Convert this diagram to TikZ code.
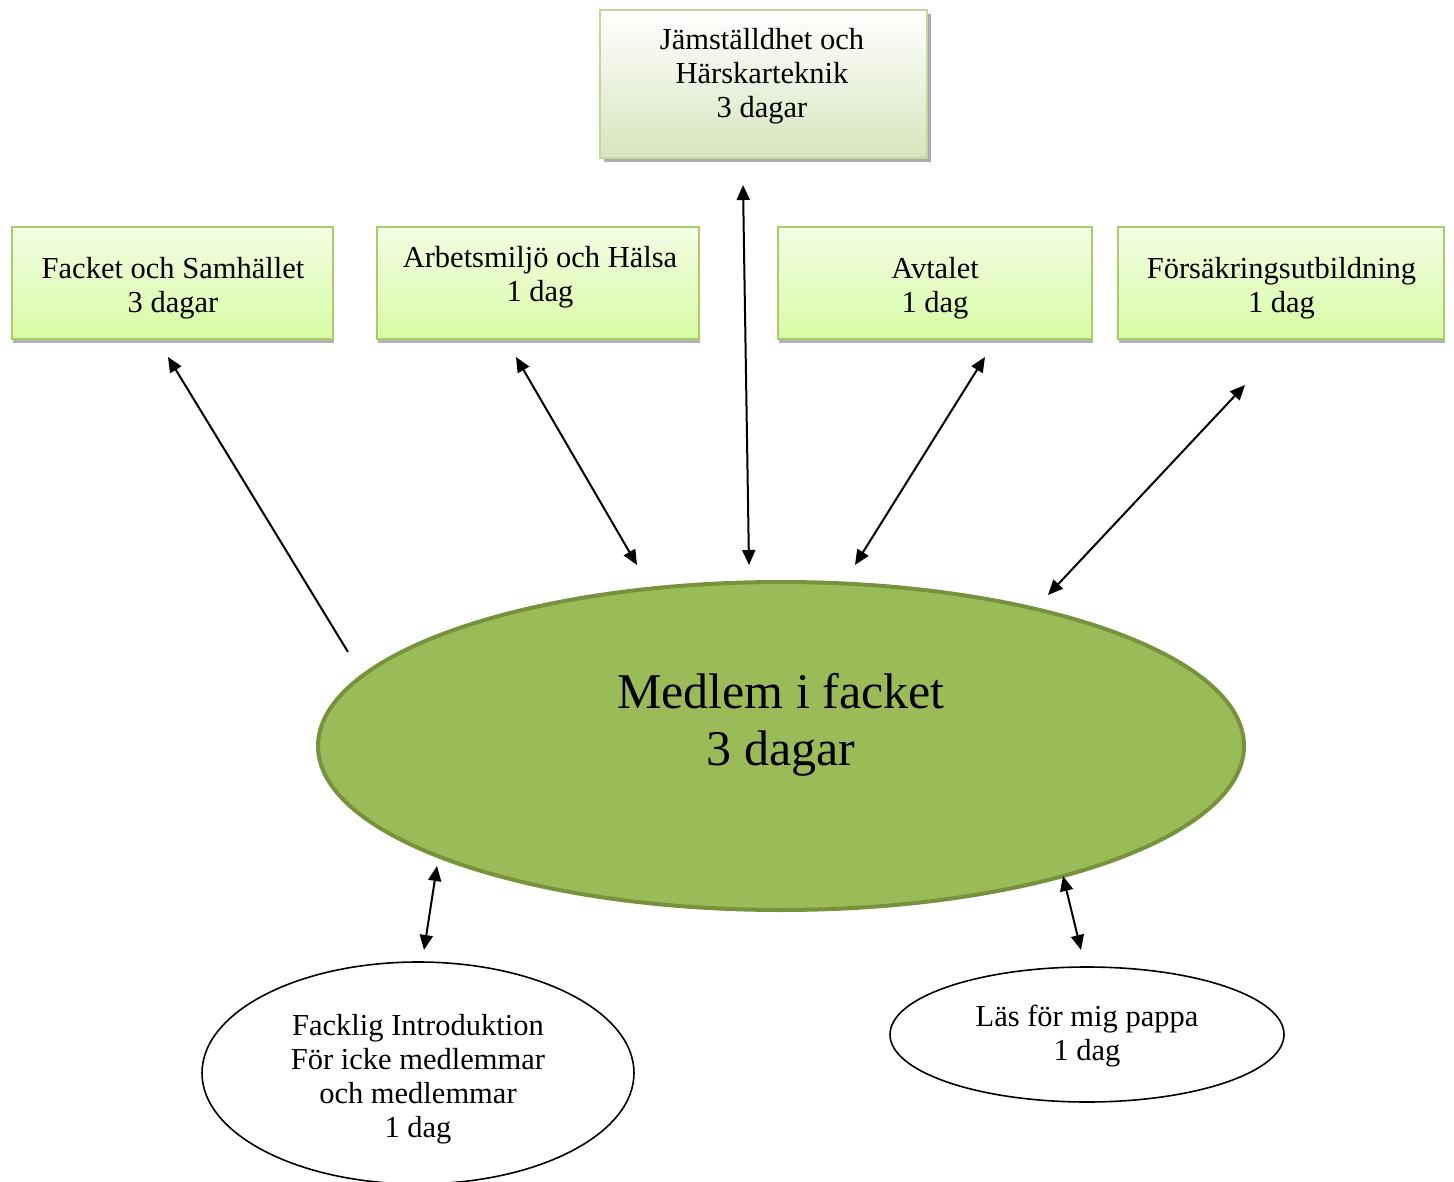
\documentclass[tikz,border=0pt]{standalone}
\usepackage{fontspec}
\setmainfont{Liberation Serif}
\usetikzlibrary{arrows.meta,shapes.geometric,shadows}
\definecolor{boxtop}{HTML}{F3FDE4}
\definecolor{boxbot}{HTML}{D8FBA4}
\definecolor{boxline}{HTML}{A9CB6A}
\definecolor{toptop}{HTML}{FFFFFF}
\definecolor{topbot}{HTML}{D7E4BD}
\definecolor{topline}{HTML}{C3D69B}
\definecolor{mainfill}{HTML}{9BBB59}
\definecolor{mainline}{HTML}{76923C}
\tikzset{
  gbox/.style={rectangle, draw=boxline, line width=2pt, top color=boxtop, bottom color=boxbot,
    inner sep=0pt, drop shadow={shadow xshift=1pt, shadow yshift=-4pt, opacity=0.5, fill=black!60}},
  tbox/.style={rectangle, draw=topline, line width=2.5pt, top color=toptop, bottom color=topbot,
    inner sep=0pt, drop shadow={shadow xshift=4pt, shadow yshift=-4pt, opacity=0.6, fill=black!55}},
  txt/.style={align=center, inner sep=0pt, font=\fontsize{30.5}{34}\selectfont},
  conn/.style={line width=2pt, black},
  both/.style={conn, {Triangle[length=15pt,width=13pt]}-{Triangle[length=15pt,width=13pt]}},
  one/.style={conn, -{Triangle[length=15pt,width=13pt]}},
}
\begin{document}
\begin{tikzpicture}[x=1pt,y=-1pt]
\useasboundingbox (0,0) rectangle (1454,1182);
% top box
\node[tbox, minimum width=327pt, minimum height=148pt] (top) at (763.5,84) {};
\node[txt] (toptxt) at (762,76) {Jämställdhet och\\Härskarteknik\\3 dagar};
% row boxes
\node[gbox, minimum width=321pt, minimum height=112pt] (b1) at (172.5,283) {};
\node[txt] (b1t) at (173,288) {Facket och Samhället\\3 dagar};
\node[gbox, minimum width=322pt, minimum height=112pt] (b2) at (538,283) {};
\node[txt] (b2t) at (540,277) {Arbetsmiljö och Hälsa\\1 dag};
\node[gbox, minimum width=314pt, minimum height=112pt] (b3) at (935,283) {};
\node[txt] (b3t) at (935,288) {Avtalet\\1 dag};
\node[gbox, minimum width=326pt, minimum height=112pt] (b4) at (1281,283) {};
\node[txt] (b4t) at (1281.5,288) {Försäkringsutbildning\\1 dag};
% main ellipse
\node[ellipse, draw=mainline, line width=4pt, fill=mainfill, minimum width=926pt, minimum height=328pt, inner sep=0pt] (main) at (781,746) {};
\node[txt, font=\fontsize{50}{57}\selectfont] (maint) at (781,725) {Medlem i facket\\3 dagar};
% lower ellipses
\node[ellipse, draw, line width=1.6pt, minimum width=432pt, minimum height=222pt, inner sep=0pt] (intro) at (418,1073) {};
\node[txt] (introt) at (418,1079) {Facklig Introduktion\\För icke medlemmar\\och medlemmar\\1 dag};
\node[ellipse, draw, line width=1.6pt, minimum width=394pt, minimum height=135pt, inner sep=0pt] (pappa) at (1087,1034.5) {};
\node[txt] (pappat) at (1087,1036) {Läs för mig pappa\\1 dag};
% connector end points
\coordinate (a1s) at (348,652); \coordinate (a1e) at (168,357);
\coordinate (a2s) at (637,565); \coordinate (a2e) at (516,357);
\coordinate (a3s) at (749,565); \coordinate (a3e) at (743,185);
\coordinate (a4s) at (855,565); \coordinate (a4e) at (985,357);
\coordinate (a5s) at (1048,595); \coordinate (a5e) at (1245,385);
\coordinate (a6s) at (424,950); \coordinate (a6e) at (437,866);
\coordinate (a7s) at (1081,950); \coordinate (a7e) at (1063,876);
\draw[one] (a1s) -- (a1e);
\draw[both] (a2s) -- (a2e);
\draw[both] (a3s) -- (a3e);
\draw[both] (a4s) -- (a4e);
\draw[both] (a5s) -- (a5e);
\draw[both] (a6s) -- (a6e);
\draw[both] (a7s) -- (a7e);
\end{tikzpicture}
\end{document}
